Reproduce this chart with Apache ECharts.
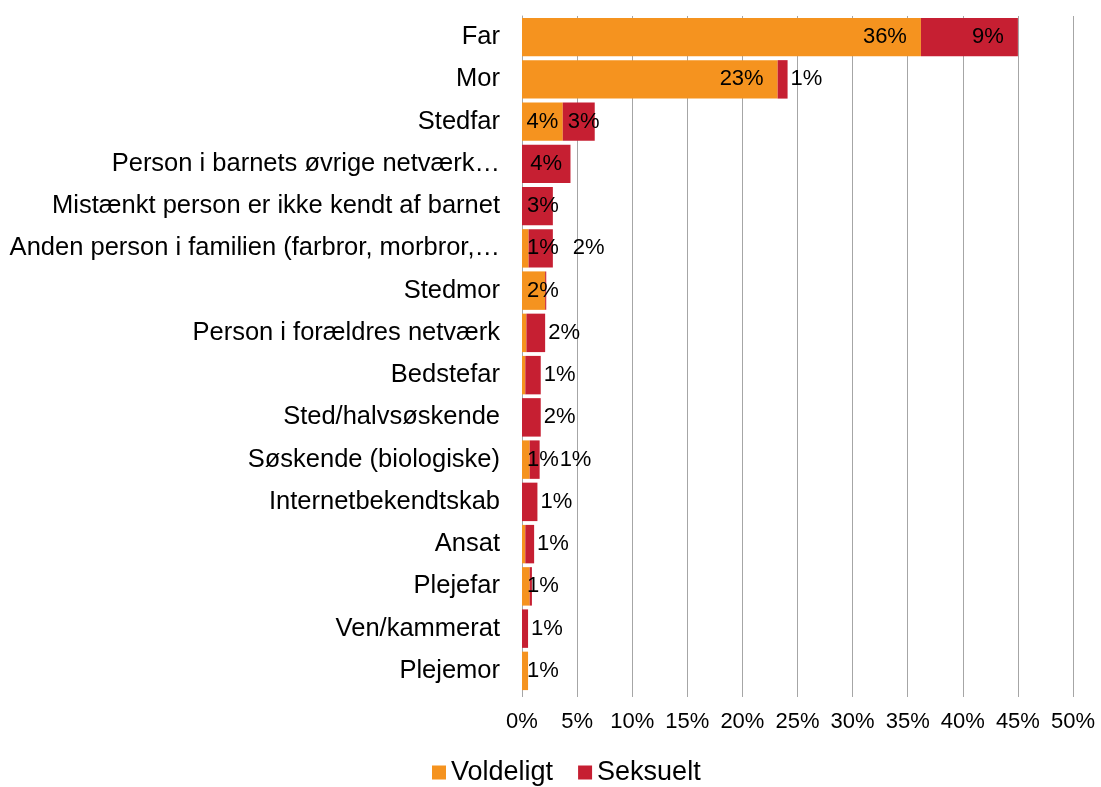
<!DOCTYPE html>
<html>
<head>
<meta charset="utf-8">
<script src="https://cdn.jsdelivr.net/npm/echarts@6/dist/echarts.min.js"></script>
<style>
  html, body { margin: 0; padding: 0; background: #fff; }
  #chart { width: 1101px; height: 787px; }
</style>
</head>
<body>
<div id="chart"></div>
<script>
// kategorier, oppefra og ned
const categories = [
    'Far', 'Mor', 'Stedfar', 'Person i barnets øvrige netværk…',
    'Mistænkt person er ikke kendt af barnet', 'Anden person i familien (farbror, morbror,…',
    'Stedmor', 'Person i forældres netværk', 'Bedstefar', 'Sted/halvsøskende',
    'Søskende (biologiske)', 'Internetbekendtskab', 'Ansat', 'Plejefar',
    'Ven/kammerat', 'Plejemor'
];
// procent
const voldeligt = [36.2, 23.2, 3.7, 0, 0, 0.6, 2.1, 0.4, 0.3, 0, 0.7, 0, 0.3, 0.7, 0, 0.55];
const seksuelt = [8.8, 0.9, 2.9, 4.4, 2.8, 2.2, 0.1, 1.7, 1.4, 1.7, 0.9, 1.4, 0.8, 0.2, 0.55, 0];
const xTicks = { min: 0, max: 50, interval: 5 };

const font = "'Liberation Sans', Arial, sans-serif";

function shown(v) { return Math.round(v) >= 1; }

// label placering ligesom Excel "inderste ende" - groft
function withLabels(values, isRed) {
    return values.map((v, i) => {
        let pos, dist;
        let o = voldeligt[i];
        if (v >= 5) { pos = 'insideRight'; dist = 14; }
        else if (v >= 3) { pos = 'inside'; dist = 5; }
        else if (v >= 2.5) { pos = 'insideLeft'; dist = 5; }
        else if (isRed && shown(o) && o < 3) { pos = 'right'; dist = 20; } // undgå overlap med orange label
        else if (v >= 2 || !isRed) { pos = 'insideLeft'; dist = 5; }
        else { pos = 'right'; dist = 3; }
        return { value: v, label: { position: pos, distance: dist } };
    });
}

function makeSeries(name, values, color, isRed) {
    return {
        name: name,
        type: 'bar',
        stack: 'total',
        barCategoryGap: '9%',
        itemStyle: { color: color },
        label: {
            show: true,
            color: '#000',
            fontSize: 22,
            fontFamily: font,
            formatter: p => shown(p.value) ? Math.round(p.value) + '%' : ''
        },
        data: withLabels(values, isRed)
    };
}

const myChart = echarts.init(document.getElementById('chart'));
myChart.setOption({
    animation: false,
    textStyle: { fontFamily: font },
    grid: { left: 522, right: 28, top: 16, bottom: 95 },
    legend: {
        top: 754,
        left: 427,
        itemWidth: 14,
        itemHeight: 14,
        itemGap: 25,
        icon: 'rect',
        textStyle: { fontSize: 27, color: '#000', fontFamily: font },
        data: ['Voldeligt', 'Seksuelt']
    },
    xAxis: {
        type: 'value',
        min: xTicks.min,
        max: xTicks.max,
        interval: xTicks.interval,
        axisLine: { show: false },
        axisTick: { show: true, length: 5, lineStyle: { color: '#a6a6a6' } },
        splitLine: { show: true, lineStyle: { color: '#a6a6a6', width: 1 } },
        axisLabel: { formatter: '{value}%', fontSize: 22, color: '#000', margin: 19 }
    },
    yAxis: {
        type: 'category',
        inverse: true,
        data: categories,
        axisLine: { show: true, lineStyle: { color: '#a6a6a6' } },
        axisTick: { show: false },
        axisLabel: { fontSize: 25.5, color: '#000', margin: 22 }
    },
    series: [
        makeSeries('Voldeligt', voldeligt, '#f5931f', false),
        makeSeries('Seksuelt', seksuelt, '#c61f32', true)
    ]
});
</script>
</body>
</html>
